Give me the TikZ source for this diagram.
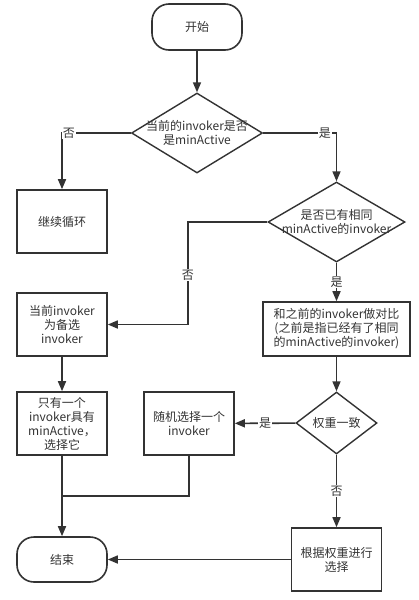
\documentclass[tikz,border=0pt]{standalone}
\usepackage{fontspec}
\setmainfont{Noto Sans CJK SC}
\usepackage{xcolor}
\usetikzlibrary{shapes.geometric,arrows.meta,positioning}

\definecolor{linegray}{HTML}{333333}

\tikzset{
    flowbox/.style={draw=linegray, line width=1.6pt, text=linegray, minimum width=90pt, minimum height=63pt, align=center, inner sep=1pt, font=\fontsize{12}{14}\selectfont},
    termbox/.style={flowbox, rounded corners=17pt, minimum height=46pt},
    decision/.style={diamond, draw=linegray, line width=1.4pt, text=linegray, inner sep=0pt, align=center, font=\fontsize{12}{14}\selectfont},
    flowline/.style={draw=linegray, line width=1.6pt},
    flowarrow/.style={flowline, -{Triangle[length=10pt,width=8pt]}},
    yesno/.style={fill=white, text=linegray, inner sep=1pt, font=\fontsize{12}{14}\selectfont}
}

\begin{document}
\begin{tikzpicture}[x=1pt, y=-1pt]
    \useasboundingbox (0,0) rectangle (419,600);

    % Start and first check
    \node[termbox] (start) at (197,27) {开始};
    \node[decision, minimum width=131pt, minimum height=80pt] (isMin) at (197,133)
        {\makebox[0pt]{当前的invoker是否}\\\makebox[0pt]{是minActive}};
    \node[flowbox] (loop) at (62,221.5) {继续循环};

    % Second check
    \node[decision, minimum width=137pt, minimum height=80pt] (hasSame) at (336.5,222)
        {\makebox[0pt]{是否已有相同}\\\makebox[0pt]{minActive的invoker}};
    \node[flowbox] (candidate) at (62,324.5) {当前invoker\\为备选\\invoker};
    \node[flowbox, minimum width=147pt, minimum height=54pt] (compare) at (336.5,329)
        {和之前的invoker做对比\\(之前是指已经有了相同\\的minActive的invoker)};

    % Weight check
    \node[flowbox] (onlyOne) at (62,423.5) {只有一个\\invoker具有\\minActive，\\选择它};
    \node[flowbox] (random) at (189,423.5) {随机选择一个\\invoker};
    \node[decision, minimum width=81pt, minimum height=62pt] (sameWeight) at (336.5,423) {权重一致};
    \node[flowbox] (byWeight) at (336.5,559.5) {根据权重进行\\选择};
    \node[termbox, minimum height=45pt] (finish) at (62,559.5) {结束};
    \coordinate (merge) at (62,496);

    % Connectors
    \draw[flowarrow] (start) -- (isMin);
    \draw[flowarrow] (isMin.west) -| node[yesno, pos=0.45] {否} (loop);
    \draw[flowarrow] (isMin.east) -| node[yesno, pos=0.42] {是} (hasSame);
    \draw[flowarrow] (hasSame.west) -| node[yesno, pos=0.76] {否} ([xshift=80pt]candidate.east) -- (candidate.east);
    \draw[flowarrow] (hasSame) -- node[yesno] {是} (compare);
    \draw[flowarrow] (candidate) -- (onlyOne);
    \draw[flowarrow] (compare) -- (sameWeight);
    \draw[flowarrow] (sameWeight) -- node[yesno] {是} (random);
    \draw[flowarrow] (sameWeight) -- node[yesno] {否} (byWeight);
    \draw[flowarrow] (byWeight) -- (finish);
    \draw[flowarrow] (onlyOne) -- (finish);
    \draw[flowline] (random.south) |- (merge);
\end{tikzpicture}
\end{document}
